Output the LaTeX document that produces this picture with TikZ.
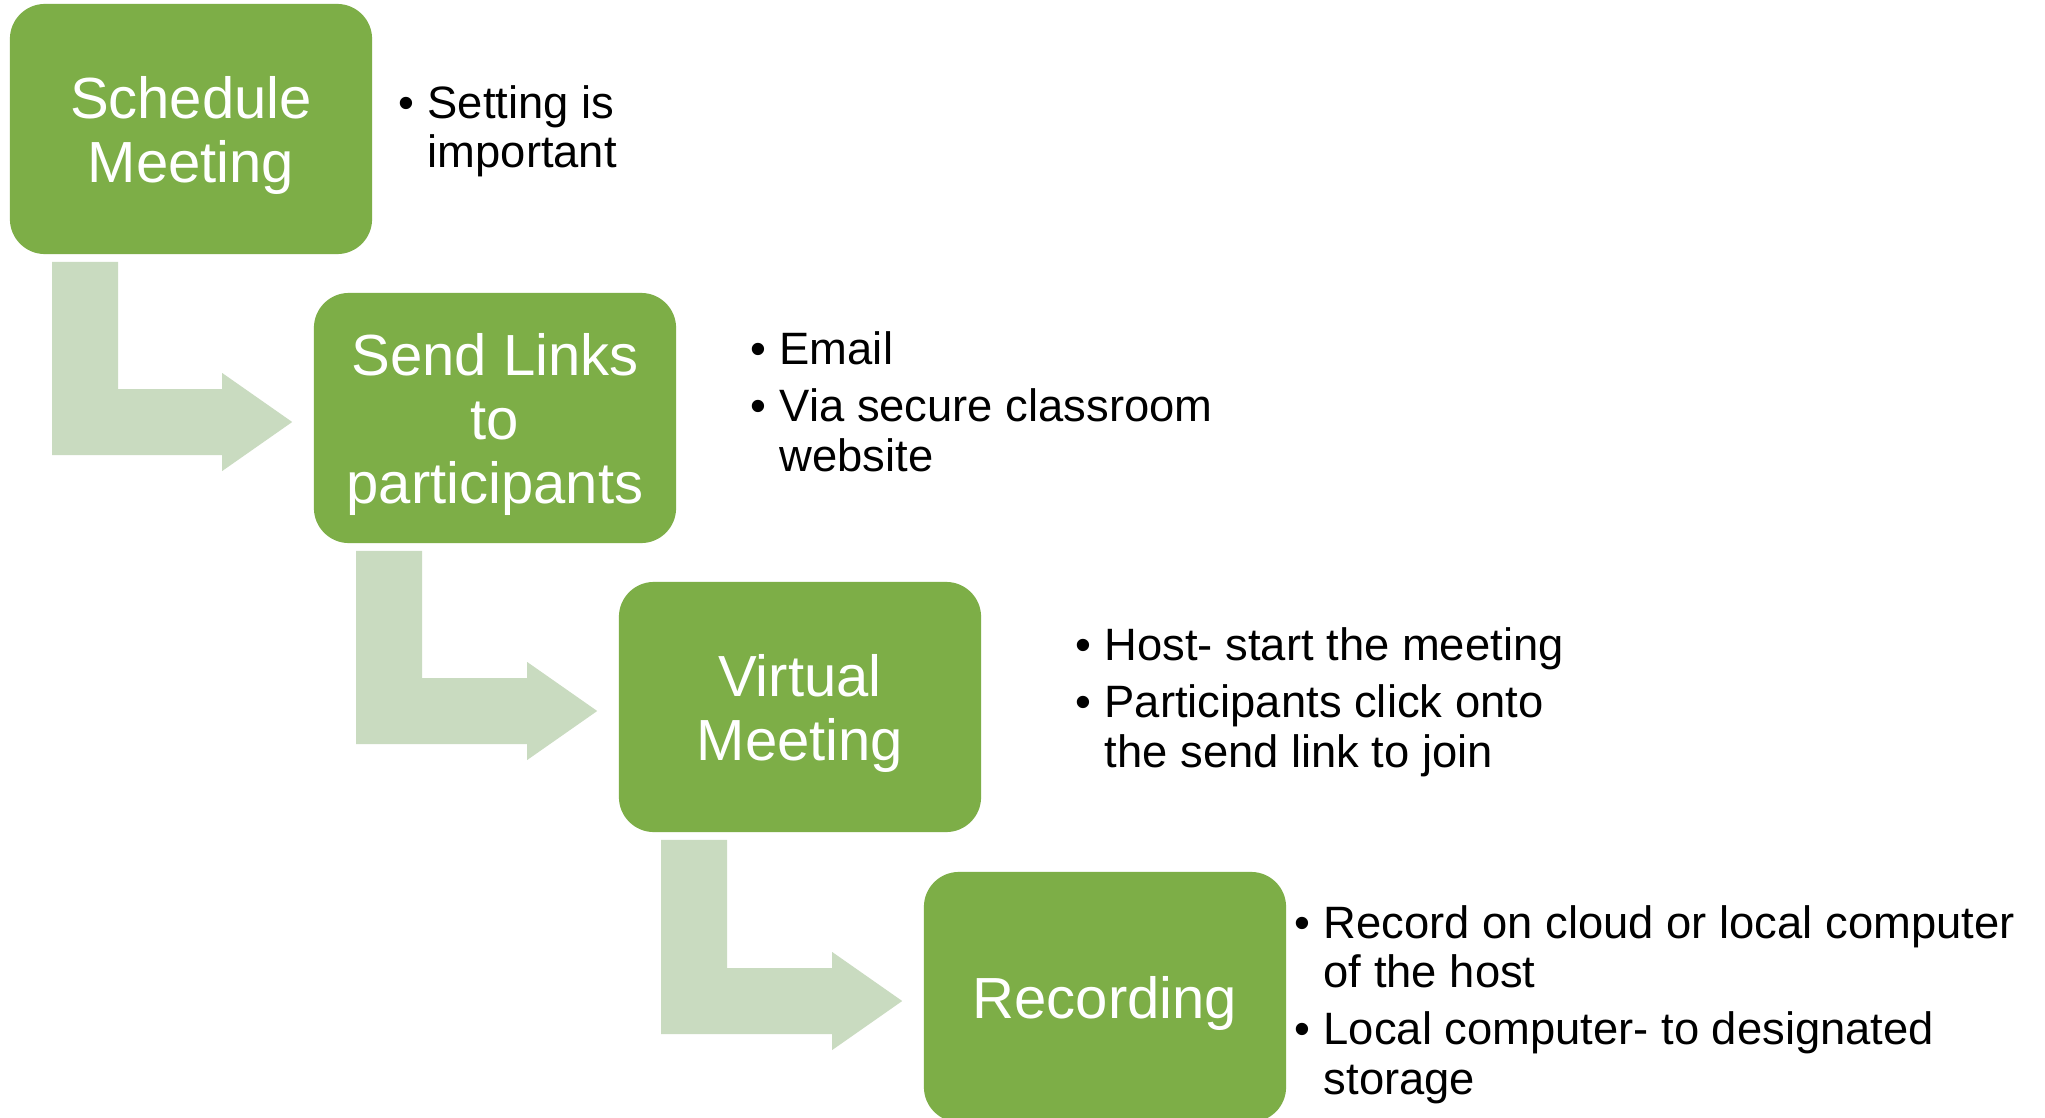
\documentclass[tikz,border=0pt]{standalone}
\usepackage{fontspec}
\setmainfont{Liberation Sans}
\usetikzlibrary{calc}
\definecolor{stepgreen}{RGB}{125,174,71}
\definecolor{bendgreen}{RGB}{201,219,192}

% bent arrow: down from the bottom of one step, then right into the next one
\newcommand{\stepbend}[2]{%
  \coordinate (bar) at ($(#1.south west)+(43,7)$);
  \coordinate (head) at ($(#2.west)+(-91,4)$);
  \fill[bendarrow] (bar) -- ++(66,0) -- ($(bar |- head)+(66,-33)$)
    -- ($(head)+(0,-33)$) -- ($(head)+(0,-49)$) -- ($(head)+(70,0)$)
    -- ($(head)+(0,49)$) -- ($(head)+(0,33)$) -- ($(bar |- head)+(0,33)$) -- cycle;
}

\begin{document}
\begin{tikzpicture}[x=0.01cm,y=-0.01cm]
  % `stepbox' is one step of the process, `bendarrow' the arrow between steps.
  % `steplist' holds the bullet notes beside each step.
  \tikzstyle{stepbox} = [fill=stepgreen,text=white,rounded corners=0.35cm,minimum width=3.62cm,minimum height=2.5cm,text depth=0pt,align=center,font=\fontsize{16.5}{18.2}\selectfont]
  \tikzstyle{bendarrow} = [fill=bendgreen]
  \tikzstyle{steplist} = [anchor=base west,inner sep=0pt,font=\fontsize{12.9}{14.2}\selectfont]
  %
  \fill[white] (0,0) rectangle (2045,1118);
  \useasboundingbox (0,0) rectangle (2045,1118);
  % Steps.
  \node[stepbox] (schedule) at (191,129) {Schedule\\Meeting};
  \node[stepbox] (links) at (495,418) {Send Links\\to\\participants};
  \node[stepbox] (virtual) at (800,707) {Virtual\\Meeting};
  \node[stepbox] (record) at (1105,997) {Recording};
  % Arrows.
  \stepbend{schedule}{links}
  \stepbend{links}{virtual}
  \stepbend{virtual}{record}
  % Notes.
  \node[steplist] (schedulenotes) at (398,118) {\begin{tabular}[t]{@{}p{0.29cm}@{}l@{}}
    \textbullet & Setting is\\ & important\end{tabular}};
  \node[steplist] (linksnotes) at (750,364) {\begin{tabular}[t]{@{}p{0.29cm}@{}l@{}}
    \textbullet & Email\\[0.08cm]
    \textbullet & Via secure classroom\\ & website\end{tabular}};
  \node[steplist] (virtualnotes) at (1075,660) {\begin{tabular}[t]{@{}p{0.29cm}@{}l@{}}
    \textbullet & Host- start the meeting\\[0.08cm]
    \textbullet & Participants click onto\\ & the send link to join\end{tabular}};
  \node[steplist] (recordnotes) at (1294,938) {\begin{tabular}[t]{@{}p{0.29cm}@{}l@{}}
    \textbullet & Record on cloud or local computer\\ & of the host\\[0.07cm]
    \textbullet & Local computer- to designated\\ & storage\end{tabular}};
\end{tikzpicture}
\end{document}
